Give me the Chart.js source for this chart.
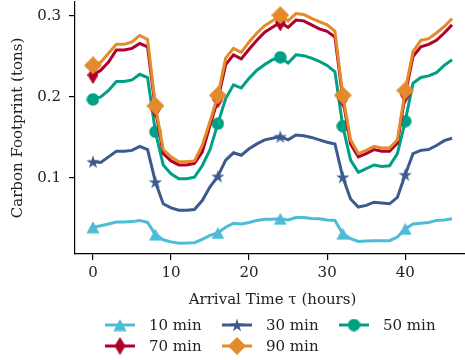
<!DOCTYPE html>
<html>
<head>
<meta charset="utf-8">
<script src="https://cdn.jsdelivr.net/npm/chart.js@4/dist/chart.umd.min.js"></script>
<style>
    html, body { margin: 0; padding: 0; background: #fff; overflow: hidden; }
</style>
</head>
<body>
<canvas id="footprint-chart" width="470" height="360"></canvas>
<script>
// ---- data ----
const hours = [0, 1, 2, 3, 4, 5, 6, 7, 8, 9, 10, 11, 12, 13, 14, 15, 16, 17, 18, 19, 20, 21, 22, 23,
               24, 25, 26, 27, 28, 29, 30, 31, 32, 33, 34, 35, 36, 37, 38, 39, 40, 41, 42, 43, 44, 45, 46];

const seriesNames = ['10 min', '30 min', '50 min', '70 min', '90 min'];

const tenMin = [0.039, 0.041, 0.043, 0.0455, 0.0455, 0.046, 0.0475, 0.045, 0.030,
                0.0236, 0.021, 0.0194, 0.0195, 0.0199, 0.024, 0.029, 0.032,
                0.039, 0.044, 0.043, 0.045, 0.0475, 0.049, 0.049, 0.0495,
                0.048, 0.051, 0.051, 0.050, 0.0495, 0.048, 0.0475, 0.031,
                0.025, 0.0215, 0.022, 0.0225, 0.0225, 0.0225, 0.027, 0.037,
                0.043, 0.044, 0.045, 0.0475, 0.048, 0.0495];

const thirtyMin = [0.120, 0.119, 0.126, 0.133, 0.133, 0.134, 0.139, 0.135, 0.095,
                   0.068, 0.063, 0.060, 0.060, 0.061, 0.072, 0.089, 0.102,
                   0.122, 0.131, 0.128, 0.136, 0.142, 0.147, 0.149, 0.151,
                   0.147, 0.153, 0.152, 0.150, 0.147, 0.144, 0.142, 0.101,
                   0.074, 0.064, 0.066, 0.070, 0.069, 0.068, 0.076, 0.104,
                   0.130, 0.134, 0.135, 0.140, 0.146, 0.149];

const fiftyMin = [0.197, 0.200, 0.208, 0.219, 0.219, 0.221, 0.228, 0.224, 0.157,
                  0.116, 0.105, 0.099, 0.099, 0.101, 0.115, 0.135, 0.167,
                  0.198, 0.215, 0.211, 0.223, 0.233, 0.240, 0.246, 0.249,
                  0.242, 0.252, 0.251, 0.248, 0.244, 0.239, 0.231, 0.164,
                  0.122, 0.107, 0.1115, 0.116, 0.114, 0.115, 0.130, 0.170,
                  0.217, 0.224, 0.226, 0.230, 0.239, 0.246];

const seventyMin = [0.227, 0.233, 0.243, 0.258, 0.258, 0.260, 0.266, 0.262, 0.185,
                    0.130, 0.121, 0.116, 0.116, 0.118, 0.132, 0.165, 0.197,
                    0.240, 0.252, 0.247, 0.259, 0.270, 0.280, 0.286, 0.292,
                    0.286, 0.295, 0.294, 0.289, 0.284, 0.281, 0.274, 0.198,
                    0.142, 0.126, 0.130, 0.135, 0.133, 0.133, 0.143, 0.203,
                    0.250, 0.262, 0.265, 0.270, 0.279, 0.289];

const ninetyMin = [0.239, 0.243, 0.254, 0.265, 0.265, 0.268, 0.276, 0.271, 0.189,
                   0.135, 0.126, 0.120, 0.120, 0.121, 0.140, 0.170, 0.202,
                   0.248, 0.260, 0.255, 0.268, 0.279, 0.288, 0.294, 0.301,
                   0.294, 0.303, 0.302, 0.297, 0.293, 0.289, 0.281, 0.202,
                   0.147, 0.130, 0.134, 0.139, 0.137, 0.137, 0.147, 0.208,
                   0.256, 0.270, 0.272, 0.279, 0.287, 0.297];

const xTicks = [0, 10, 20, 30, 40];
const yTicks = [0.1, 0.2, 0.3];

const colors = ['#4cbcd7', '#3d5a8f', '#00a084', '#b0002c', '#e38a2b'];
const MARK_EVERY = 8;
const FONT = "'DejaVu Serif', serif";


/* ============================== MARKERS ============================== */
// matplotlib-like filled markers, drawn once on small canvases
function makeMarker(shape, color) {
    const sizes = { triangle: [14, 13], star: [14, 14], circle: [13, 13], thinDiamond: [11, 18], diamond: [18, 18] };
    const [w, h] = sizes[shape];
    const c = document.createElement('canvas');
    c.width = w; c.height = h;
    const g = c.getContext('2d');
    g.fillStyle = color;
    g.beginPath();
    if (shape === 'triangle') {
        g.moveTo(w / 2, 0.5); g.lineTo(w - 0.5, h - 0.5); g.lineTo(0.5, h - 0.5);
    } else if (shape === 'circle') {
        g.arc(w / 2, h / 2, w / 2 - 0.3, 0, Math.PI * 2);
    } else if (shape === 'star') {
        const R = w / 2, r = R * 0.382;
        for (let k = 0; k < 10; k++) {
            const rad = (k % 2 === 0) ? R : r;
            const a = -Math.PI / 2 + k * Math.PI / 5;
            const px = w / 2 + rad * Math.cos(a), py = h / 2 + 0.6 + rad * Math.sin(a);
            k === 0 ? g.moveTo(px, py) : g.lineTo(px, py);
        }
    } else {
        g.moveTo(w / 2, 0); g.lineTo(w, h / 2); g.lineTo(w / 2, h); g.lineTo(0, h / 2);
    }
    g.closePath();
    g.fill();
    return c;
}

const markerShapes = ['triangle', 'star', 'circle', 'thinDiamond', 'diamond'];
const markers = markerShapes.map((s, i) => makeMarker(s, colors[i]));


/* ============================== LEGEND ============================== */
const gridLegend = {
    id: 'gridLegend',
    afterDraw(chart) {
        const { ctx } = chart;
        ctx.save();
        ctx.font = '15px ' + FONT;
        ctx.fillStyle = '#222';
        ctx.textBaseline = 'middle';
        seriesNames.forEach((name, i) => {
            const x = 105 + (i % 3) * 117;
            const y = 325 + Math.floor(i / 3) * 21;
            ctx.strokeStyle = colors[i];
            ctx.lineWidth = 3;
            ctx.beginPath();
            ctx.moveTo(x, y);
            ctx.lineTo(x + 30, y);
            ctx.stroke();
            const m = markers[i];
            ctx.drawImage(m, x + 15 - m.width / 2, y - m.height / 2);
            ctx.fillText(name, x + 44, y + 1);
        });
        ctx.restore();
    }
};


/* ============================== CHART ============================== */
function footprintChart() {
    const ctx = document.getElementById('footprint-chart').getContext('2d');
    const allSeries = [tenMin, thirtyMin, fiftyMin, seventyMin, ninetyMin];

    new Chart(ctx, {
        type: 'line',
        data: {
            datasets: allSeries.map((vals, i) => ({
                label: seriesNames[i],
                data: vals.map((v, k) => ({ x: hours[k], y: v })),
                borderColor: colors[i],
                backgroundColor: colors[i],
                borderWidth: 3,
                tension: 0,
                pointStyle: markers[i],
                pointRadius: c => (c.dataIndex % MARK_EVERY === 0 ? 6 : 0),
                pointHoverRadius: 0,
                order: allSeries.length - 1 - i      // later series on top, like matplotlib
            }))
        },
        options: {
            responsive: false,
            animation: false,
            events: [],
            layout: { autoPadding: false, padding: { top: 2, bottom: 50, left: 0, right: 0 } },
            plugins: {
                legend: { display: false },
                tooltip: { enabled: false }
            },
            scales: {
                x: {
                    type: 'linear',
                    min: -2.3,
                    max: 48.3,
                    afterBuildTicks: s => { s.ticks = xTicks.map(v => ({ value: v })); },
                    afterFit: s => { s.height = 56; s.paddingLeft = 0; s.paddingRight = 0; },
                    border: { display: true, color: '#000', width: 1.2 },
                    grid: { drawOnChartArea: false, drawTicks: true, tickLength: 6, color: '#000', lineWidth: 1.2 },
                    ticks: { color: '#222', font: { family: FONT, size: 15 }, padding: 4, maxRotation: 0 },
                    title: {
                        display: true,
                        text: 'Arrival Time \u03c4 (hours)',
                        color: '#222',
                        font: { family: FONT, size: 15 },
                        padding: { top: 0, bottom: 1 }
                    }
                },
                y: {
                    min: 0.006,
                    max: 0.3173,
                    afterBuildTicks: s => { s.ticks = yTicks.map(v => ({ value: v })); },
                    afterFit: s => { s.width = 75; s.paddingTop = 0; s.paddingBottom = 0; },
                    border: { display: true, color: '#000', width: 1.2 },
                    grid: { drawOnChartArea: false, drawTicks: true, tickLength: 6, color: '#000', lineWidth: 1.2 },
                    ticks: { color: '#222', font: { family: FONT, size: 15 }, padding: 8, callback: v => v.toFixed(1) },
                    title: {
                        display: true,
                        text: 'Carbon Footprint (tons)',
                        color: '#222',
                        font: { family: FONT, size: 15 },
                        padding: { top: 9, bottom: 0 }
                    }
                }
            }
        },
        plugins: [gridLegend]
    });
}

footprintChart();
</script>
</body>
</html>
